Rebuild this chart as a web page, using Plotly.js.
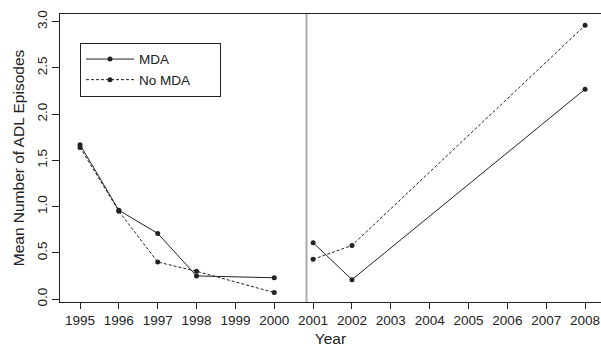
<!DOCTYPE html>
<html>
<head>
<meta charset="utf-8">
<script src="https://cdn.plot.ly/plotly-3.0.1.min.js"></script>
<style>html,body{margin:0;padding:0;background:#fff;}#chart{width:601px;height:347px;}</style>
</head>
<body>
<div id="chart"></div>
<script>
// Data (gap between 2000 and 2001 marked with null)
const years      = [1995, 1996, 1997, 1998, 2000, 2000.5, 2001, 2002, 2008];
const mda        = [1.67, 0.96, 0.71, 0.25, 0.23, null,   0.61, 0.21, 2.27];
const noMda      = [1.64, 0.95, 0.40, 0.30, 0.07, null,   0.43, 0.58, 2.96];
const tickYears  = [1995,1996,1997,1998,1999,2000,2001,2002,2003,2004,2005,2006,2007,2008];
const yTicks     = [0, 0.5, 1, 1.5, 2, 2.5, 3];
const yTickText  = ['0.0','0.5','1.0','1.5','2.0','2.5','3.0'];
const dividerX   = 2000.83;

const ink = '#222';
const font = 'Liberation Sans, Arial, sans-serif';

const traces = [
  {x: years, y: mda, name: 'MDA' + '\u00a0'.repeat(12), type: 'scatter', mode: 'lines+markers',
   connectgaps: false,
   line: {color: ink, width: 1},
   marker: {color: ink, size: 5}},
  {x: years, y: noMda, name: 'No MDA', type: 'scatter', mode: 'lines+markers',
   connectgaps: false,
   line: {color: ink, width: 1, dash: '3px,2px'},
   marker: {color: ink, size: 5}}
];

const layout = {
  width: 601, height: 347,
  margin: {l: 60, r: 0, t: 14, b: 45},
  paper_bgcolor: '#fff', plot_bgcolor: '#fff',
  font: {family: font, color: ink, size: 13},
  showlegend: true,
  legend: {
    x: 0.037, y: 0.9, xanchor: 'left', yanchor: 'top',
    bordercolor: ink, borderwidth: 1, bgcolor: '#fff',
    font: {family: font, size: 13.5, color: ink},
    tracegroupgap: 0, itemwidth: 48
  },
  xaxis: {
    range: [1994.485, 2008.41],
    tickvals: tickYears, ticktext: tickYears.map(String),
    ticks: 'outside', ticklen: 6, tickwidth: 1, tickcolor: ink,
    showline: true, linecolor: ink, linewidth: 1, mirror: true,
    showgrid: false, zeroline: false,
    tickfont: {family: font, size: 13.5, color: ink},
    title: {text: 'Year', font: {family: font, size: 15.5, color: ink}, standoff: 8}
  },
  yaxis: {
    range: [-0.032, 3.083],
    tickvals: yTicks, ticktext: yTickText, tickangle: -90,
    ticks: 'outside', ticklen: 7, tickwidth: 1, tickcolor: ink,
    showline: true, linecolor: ink, linewidth: 1,
    showgrid: false, zeroline: false,
    tickfont: {family: font, size: 13.5, color: ink},
    title: {text: 'Mean Number of ADL Episodes', font: {family: font, size: 15.5, color: ink}, standoff: 6}
  },
  shapes: [
    {type: 'line', xref: 'x', yref: 'paper', x0: dividerX, x1: dividerX, y0: 0, y1: 1,
     line: {color: '#aaa', width: 2}}
  ]
};

Plotly.newPlot('chart', traces, layout, {displayModeBar: false, staticPlot: true});
</script>
</body>
</html>
